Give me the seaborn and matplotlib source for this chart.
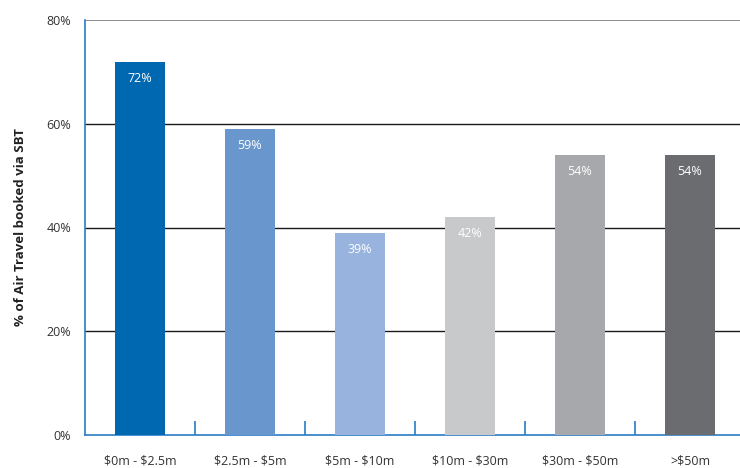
import matplotlib
matplotlib.use("Agg")
import matplotlib.pyplot as plt
import seaborn as sns
import pandas as pd
import numpy as np

categories = ["$0m - $2.5m", "$2.5m - $5m", "$5m - $10m", "$10m - $30m", "$30m - $50m", ">$50m"]
values = [72, 59, 39, 42, 54, 54]
bar_colors = ["#0067B1", "#6A96CE", "#97B3DE", "#C8C9CB", "#A7A8AB", "#6B6C70"]
y_ticks = [0, 20, 40, 60, 80]
y_tick_labels = ["0%", "20%", "40%", "60%", "80%"]

sns.set_theme(style="white")
plt.rcParams["font.family"] = ["Open Sans", "DejaVu Sans"]
plt.rcParams["text.parse_math"] = False

df = pd.DataFrame({"band": categories, "share": values})

fig = plt.figure(figsize=(7.4, 4.68), dpi=100)
ax = fig.add_axes([85 / 740, 1 - 435 / 468, 655 / 740, 415 / 468])

sns.barplot(data=df, x="band", y="share", hue="band", palette=bar_colors,
            legend=False, width=0.45, saturation=1, linewidth=0, ax=ax, zorder=3)

ax.set_ylim(0, 80)
ax.set_xlim(-0.5, 5.5 - 5 / 110)

# horizontal gridlines
for y in [20, 40, 60]:
    ax.axhline(y, color="#1a1a1a", lw=1.0, zorder=1)
ax.axhline(80, color="#7a7a7a", lw=1.2, zorder=1)

for s in ["top", "right"]:
    ax.spines[s].set_visible(False)
for s in ["left", "bottom"]:
    ax.spines[s].set_color("#2a7cc7")
    ax.spines[s].set_linewidth(1.2)

ax.set_yticks(y_ticks)
ax.set_yticklabels(y_tick_labels, fontsize=9, color="#333333")
ax.tick_params(axis="y", length=0, pad=10)

ax.set_xticks(range(len(categories)))
ax.set_xticklabels(categories, fontsize=9, color="#333333")
ax.tick_params(axis="x", which="major", length=0, pad=14)
ax.set_xticks(np.arange(0.5, len(categories) - 0.5, 1.0), minor=True)
ax.tick_params(axis="x", which="minor", direction="in", length=10,
               width=1.2, color="#2a7cc7", bottom=True)

ax.set_xlabel("")
ax.set_ylabel("% of Air Travel booked via SBT", fontsize=9.5, fontweight="bold",
              color="#222222", labelpad=14)

for i, v in enumerate(values):
    ax.text(i, v - 3.2, f"{v}%", ha="center", va="center", color="white",
            fontsize=9, zorder=4)

fig.savefig("out.png", dpi=100)
